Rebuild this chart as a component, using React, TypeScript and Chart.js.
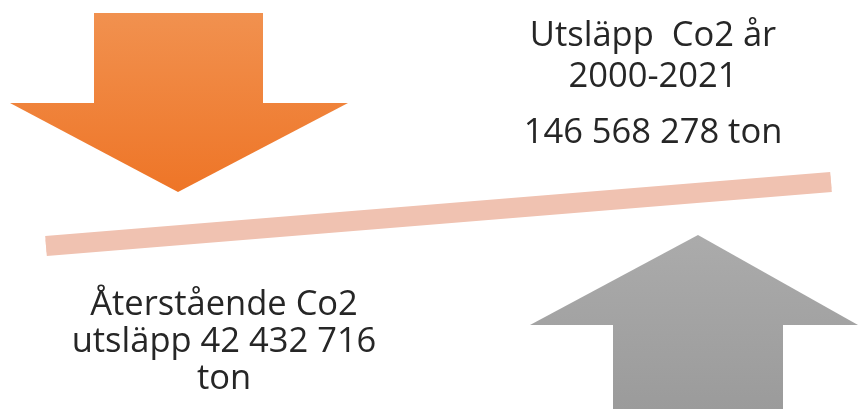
import React, { useEffect, useRef } from "react";
import { Chart, registerables } from "chart.js";

Chart.register(...registerables);

// Vertex values (x, y) in the infographic's own coordinate space (y grows downward)
const orangeShaftX = [94, 94, 263, 263];
const orangeShaftY = [104, 13, 13, 104];
const orangeHeadX = [10, 178, 348];
const orangeHeadY = [103, 192, 103];
const grayHeadX = [530, 698, 858];
const grayHeadY = [325, 235, 325];
const grayShaftX = [613, 613, 783, 783];
const grayShaftY = [409, 324, 324, 409];
const beamX = [46, 831];
const beamY = [246, 182];

const rightLabel = ["Utsläpp  Co2 år", "2000-2021", "146 568 278 ton"];
const rightLabelX = [653, 653, 653];
const rightLabelY = [46, 87, 143];
const leftLabel = ["Återstående Co2", "utsläpp 42 432 716", "ton"];
const leftLabelX = [224, 224, 224];
const leftLabelY = [315, 352, 389];

const pts = (xs: number[], ys: number[]) => xs.map((x, i) => ({ x, y: ys[i] }));

function vGrad(ctx: any, top: number, bottom: number, c1: string, c2: string, fallback: string) {
  const chart = ctx.chart;
  if (!chart.chartArea) return fallback;
  const ys = chart.scales.y;
  const g = chart.ctx.createLinearGradient(0, ys.getPixelForValue(top), 0, ys.getPixelForValue(bottom));
  g.addColorStop(0, c1);
  g.addColorStop(1, c2);
  return g;
}

const textPlugin = {
  id: "labels",
  afterDatasetsDraw(chart: any) {
    const { ctx, scales } = chart;
    ctx.save();
    ctx.fillStyle = "#262626";
    ctx.font = '34.5px "Open Sans"';
    ctx.textAlign = "center";
    ctx.textBaseline = "alphabetic";
    rightLabel.forEach((t, i) => {
      ctx.fillText(t, scales.x.getPixelForValue(rightLabelX[i]), scales.y.getPixelForValue(rightLabelY[i]));
    });
    leftLabel.forEach((t, i) => {
      ctx.fillText(t, scales.x.getPixelForValue(leftLabelX[i]), scales.y.getPixelForValue(leftLabelY[i]));
    });
    ctx.restore();
  },
};

export default function App() {
  const ref = useRef<HTMLCanvasElement>(null);
  useEffect(() => {
    document.body.style.margin = "0";
    const orangeFill = (c: any) => vGrad(c, 13, 192, "#F1914F", "#EE7527", "#EF8036");
    const grayFill = (c: any) => vGrad(c, 235, 409, "#ABABAB", "#9B9B9B", "#A5A5A5");
    const common = { pointRadius: 0, borderWidth: 0, showLine: true, tension: 0 };
    const chart = new Chart(ref.current!, {
      type: "scatter",
      data: {
        datasets: [
          { ...common, data: pts(orangeShaftX, orangeShaftY), fill: { value: 104 }, backgroundColor: orangeFill, borderColor: "rgba(0,0,0,0)" } as any,
          { ...common, data: pts(orangeHeadX, orangeHeadY), fill: { value: 103 }, backgroundColor: orangeFill, borderColor: "rgba(0,0,0,0)" } as any,
          { ...common, data: pts(grayHeadX, grayHeadY), fill: { value: 325 }, backgroundColor: grayFill, borderColor: "rgba(0,0,0,0)" } as any,
          { ...common, data: pts(grayShaftX, grayShaftY), fill: { value: 409 }, backgroundColor: grayFill, borderColor: "rgba(0,0,0,0)" } as any,
          { ...common, data: pts(beamX, beamY), fill: false, borderWidth: 20, borderColor: "#F0C2B1", borderCapStyle: "butt" } as any,
          { ...common, data: pts(beamX, beamY), fill: false, borderWidth: 13, borderColor: "#F8D3C6", borderCapStyle: "butt" } as any,
        ],
      },
      options: {
        animation: false,
        responsive: false,
        devicePixelRatio: 1,
        layout: { padding: 0 },
        events: [],
        plugins: { legend: { display: false }, tooltip: { enabled: false } },
        scales: {
          x: { type: "linear", min: 0, max: 858, display: false },
          y: { type: "linear", min: 0, max: 409, reverse: true, display: false },
        },
      },
      plugins: [textPlugin],
    });
    return () => chart.destroy();
  }, []);
  return (
    <div style={{ width: 858, height: 409, background: "#fff" }}>
      <canvas ref={ref} width={858} height={409} style={{ display: "block" }} />
    </div>
  );
}
